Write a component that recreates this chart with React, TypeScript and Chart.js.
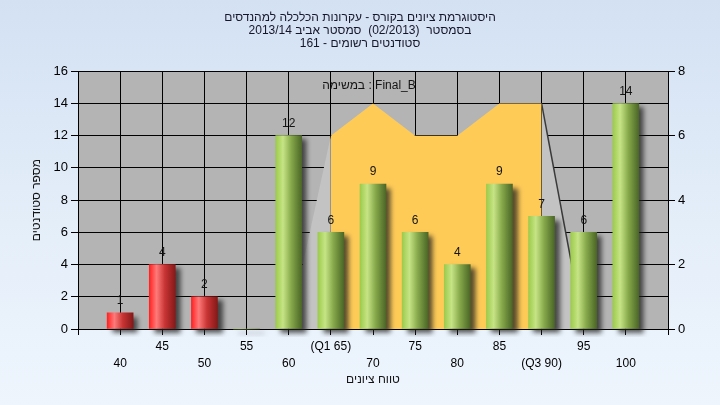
import React, { useEffect, useRef } from 'react';
import { Chart, registerables } from 'chart.js';

Chart.register(...registerables);

// ---------- data ----------
const titleLines = [
  'היסטוגרמת ציונים בקורס - עקרונות הכלכלה למהנדסים',
  'בסמסטר  (02/2013)  סמסטר אביב 2013/14',
  'סטודנטים רשומים - 161',
];
const xAxisTitle = 'טווח ציונים';
const yAxisTitle = 'מספר סטודנטים';

const categories = [40, 45, 50, 55, 60, 65, 70, 75, 80, 85, 90, 95, 100];
const tickLabels = ['40', '45', '50', '55', '60', '(Q1 65)', '70', '75', '80', '85', '(Q3 90)', '95', '100'];
const counts = [1, 4, 2, 0, 12, 6, 9, 6, 4, 9, 7, 6, 14];
const failBelow = 55;

const finalBLabel = 'במשימה : Final_B';
const finalBCategories = [65, 70, 75, 80, 85, 90];
const finalBValues = [6, 7, 6, 6, 7, 7];
// 3D side walls of the area (category, value)
const leftWallCategories = [60, 65];
const leftWallValues = [0, 6];
const rightWallCategories = [90, 95];
const rightWallValues = [7, 0];

const xMin = 35;
const xMax = 105;
const xStep = 5;
const yMax = 16;
const yStep = 2;
const y2Max = 8;
const y2Step = 2;

// ---------- styling ----------
const FONT = '"Liberation Sans", Arial, sans-serif';
const BAR_W = 26;
const PLOT_BG = '#b4b4b4';

function barFill(ctx: any) {
  const chart = ctx.chart;
  const raw = ctx.raw;
  const xs = chart.scales && chart.scales.x;
  const red = raw && raw.x < failBelow;
  const flat = red ? '#e02020' : '#8fbf45';
  if (!raw || !xs) return flat;
  const px = xs.getPixelForValue(raw.x);
  if (!isFinite(px)) return flat;
  const g = chart.ctx.createLinearGradient(px - BAR_W / 2, 0, px + BAR_W / 2, 0);
  if (red) {
    g.addColorStop(0, '#ff2222');
    g.addColorStop(0.28, '#ff7a7a');
    g.addColorStop(0.6, '#c83434');
    g.addColorStop(1, '#861818');
  } else {
    g.addColorStop(0, '#9ccb4c');
    g.addColorStop(0.28, '#c6e485');
    g.addColorStop(0.6, '#86a84a');
    g.addColorStop(1, '#4b6626');
  }
  return g;
}

const plotBgPlugin = {
  id: 'plotBg',
  beforeDraw(chart: any) {
    const { ctx, chartArea } = chart;
    if (!chartArea) return;
    ctx.save();
    ctx.fillStyle = PLOT_BG;
    ctx.fillRect(chartArea.left, chartArea.top, chartArea.right - chartArea.left, chartArea.bottom - chartArea.top);
    ctx.restore();
  },
};

const shadowPlugin = {
  id: 'barShadow',
  beforeDatasetDraw(chart: any, args: any) {
    if (args.meta.type !== 'bar') return;
    const c = chart.ctx;
    c.save();
    c.shadowColor = 'rgba(30,30,30,0.75)';
    c.shadowBlur = 5;
    c.shadowOffsetX = 5;
    c.shadowOffsetY = 4;
  },
  afterDatasetDraw(chart: any, args: any) {
    if (args.meta.type !== 'bar') return;
    chart.ctx.restore();
  },
};

const valueLabelPlugin = {
  id: 'valueLabels',
  afterDatasetsDraw(chart: any) {
    const c = chart.ctx;
    chart.data.datasets.forEach((ds: any, i: number) => {
      const meta = chart.getDatasetMeta(i);
      if (meta.type !== 'bar') return;
      meta.data.forEach((el: any, j: number) => {
        const v = ds.data[j].y;
        if (!v) return;
        c.save();
        c.font = `12px ${FONT}`;
        c.fillStyle = '#141414';
        c.textAlign = 'center';
        c.textBaseline = 'middle';
        c.fillText(String(v), el.x, el.y - 12);
        c.restore();
      });
    });
  },
};

// series name written inside the plot, top centre
const seriesNamePlugin = {
  id: 'seriesName',
  afterDraw(chart: any) {
    const { ctx, chartArea } = chart;
    if (!chartArea) return;
    ctx.save();
    ctx.font = `12px ${FONT}`;
    ctx.fillStyle = '#141414';
    ctx.textAlign = 'center';
    ctx.textBaseline = 'middle';
    ctx.fillText(finalBLabel, (chartArea.left + chartArea.right) / 2 - 4, chartArea.top + 14);
    ctx.restore();
  },
};

export default function App() {
  const ref = useRef<HTMLCanvasElement | null>(null);

  useEffect(() => {
    document.body.style.margin = '0';
    const canvas = ref.current;
    if (!canvas) return;

    const barData = categories.map((c, i) => ({ x: c, y: counts[i] }));
    const areaData = finalBCategories.map((c, i) => ({ x: c, y: finalBValues[i] }));
    const leftWall = leftWallCategories.map((c, i) => ({ x: c, y: leftWallValues[i] }));
    const rightWall = rightWallCategories.map((c, i) => ({ x: c, y: rightWallValues[i] }));

    const chart = new Chart(canvas, {
      type: 'bar',
      data: {
        datasets: [
          {
            type: 'bar',
            label: 'counts',
            data: barData as any,
            backgroundColor: barFill as any,
            borderWidth: 0,
            barThickness: BAR_W,
            xAxisID: 'x',
            yAxisID: 'y',
            order: 1,
            clip: 8 as any,
          },
          {
            type: 'line',
            label: finalBLabel,
            data: areaData as any,
            backgroundColor: '#ffcb57',
            borderWidth: 0,
            borderColor: 'rgba(0,0,0,0)',
            pointRadius: 0,
            fill: 'origin',
            tension: 0,
            xAxisID: 'x',
            yAxisID: 'y2',
            order: 2,
          },
          {
            type: 'line',
            label: 'leftWall',
            data: leftWall as any,
            backgroundColor: '#c3c3c3',
            borderWidth: 0,
            borderColor: 'rgba(0,0,0,0)',
            pointRadius: 0,
            fill: 'origin',
            tension: 0,
            xAxisID: 'x',
            yAxisID: 'y2',
            order: 3,
          },
          {
            type: 'line',
            label: 'rightWall',
            data: rightWall as any,
            backgroundColor: '#c3c3c3',
            borderWidth: 1.5,
            borderColor: '#3a3a3a',
            pointRadius: 0,
            fill: 'origin',
            tension: 0,
            xAxisID: 'x',
            yAxisID: 'y2',
            order: 3,
          },
        ],
      },
      options: {
        responsive: false,
        animation: false,
        devicePixelRatio: 1,
        layout: { padding: 0 },
        plugins: {
          title: {
            display: true,
            text: titleLines,
            color: '#16162a',
            font: { family: FONT, size: 12, lineHeight: 1.09, weight: 'normal' },
            padding: { top: 11, bottom: 21 },
          },
          legend: { display: false },
          tooltip: { enabled: false },
        },
        scales: {
          x: {
            type: 'linear',
            position: 'bottom',
            offset: false,
            min: xMin,
            max: xMax,
            afterFit: (axis: any) => {
              axis.height = 76;
            },
            ticks: {
              stepSize: xStep,
              autoSkip: false,
              maxRotation: 0,
              minRotation: 0,
              padding: 3,
              color: '#000',
              font: { family: FONT, size: 12, lineHeight: 1.4 },
              callback: (value: any) => {
                const idx = categories.indexOf(Number(value));
                if (idx < 0) return '';
                return idx % 2 === 0 ? ['', tickLabels[idx]] : [tickLabels[idx]];
              },
            },
            grid: { offset: false, color: '#000', lineWidth: 1, tickLength: 6, drawTicks: true },
            border: { color: '#000', width: 1 },
            title: {
              display: true,
              text: xAxisTitle,
              color: '#141414',
              font: { family: FONT, size: 12 },
              padding: { top: 4, bottom: 18 },
            },
          },
          y: {
            type: 'linear',
            position: 'left',
            min: 0,
            max: yMax,
            afterFit: (axis: any) => {
              axis.width = 78;
            },
            ticks: {
              stepSize: yStep,
              padding: 3,
              color: '#000',
              font: { family: FONT, size: 13 },
            },
            grid: { color: '#000', lineWidth: 1, tickLength: 7, drawTicks: true },
            border: { color: '#000', width: 1 },
            title: {
              display: true,
              text: yAxisTitle,
              color: '#141414',
              font: { family: FONT, size: 12 },
              padding: { top: 29, bottom: 0 },
            },
          },
          y2: {
            type: 'linear',
            position: 'right',
            min: 0,
            max: y2Max,
            afterFit: (axis: any) => {
              axis.width = 52;
            },
            ticks: {
              stepSize: y2Step,
              padding: 3,
              color: '#000',
              font: { family: FONT, size: 13 },
            },
            grid: { drawOnChartArea: false, color: '#000', lineWidth: 1, tickLength: 7, drawTicks: true },
            border: { color: '#000', width: 1 },
          },
        },
      } as any,
      plugins: [plotBgPlugin, shadowPlugin, valueLabelPlugin, seriesNamePlugin],
    });

    return () => chart.destroy();
  }, []);

  return (
    <div
      style={{
        width: 720,
        height: 405,
        background: 'linear-gradient(to bottom, #d3e1f3 0%, #e4eef9 55%, #eef5fd 100%)',
      }}
    >
      <canvas ref={ref} width={720} height={405} style={{ display: 'block' }} />
    </div>
  );
}
